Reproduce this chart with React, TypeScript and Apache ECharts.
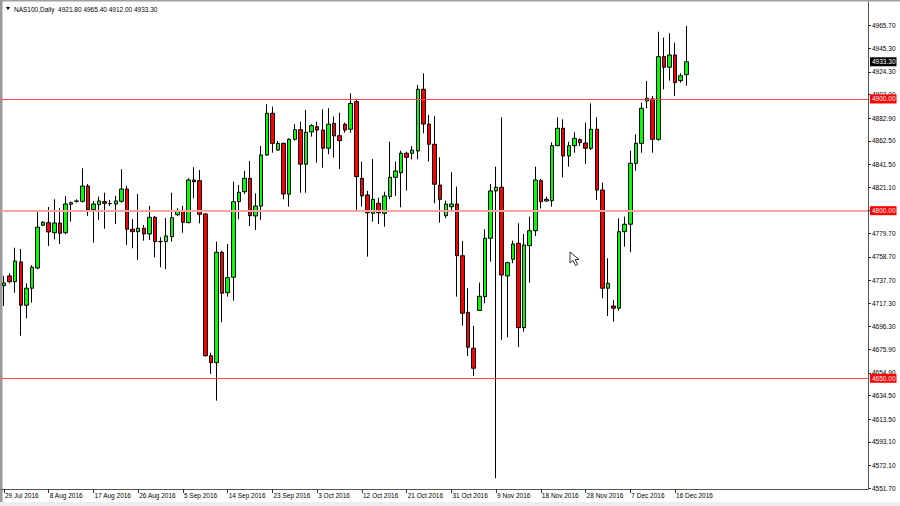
import React, { useEffect, useRef } from 'react';
import * as echarts from 'echarts';

const dateLabels = ['29 Jul 2016', '8 Aug 2016', '17 Aug 2016', '26 Aug 2016', '5 Sep 2016', '14 Sep 2016', '23 Sep 2016', '3 Oct 2016', '12 Oct 2016', '21 Oct 2016', '31 Oct 2016', '9 Nov 2016', '18 Nov 2016', '28 Nov 2016', '7 Dec 2016', '16 Dec 2016'];

const openP = [4732.9, 4741.6, 4736.5, 4754.1, 4715.4, 4730.6, 4748.7, 4787.0, 4789.3, 4780.3, 4789.0, 4780.3, 4805.8, 4808.4, 4808.4, 4822.1, 4800.9, 4805.4, 4808.1, 4806.5, 4806.0, 4808.4, 4819.4, 4783.4, 4781.2, 4784.3, 4779.2, 4794.1, 4772.5, 4772.3, 4776.8, 4796.4, 4799.5, 4789.3, 4827.5, 4826.9, 4797.1, 4670.2, 4664.0, 4762.8, 4726.6, 4740.4, 4808.1, 4817.0, 4829.0, 4795.3, 4804.2, 4849.9, 4887.2, 4854.3, 4860.3, 4814.7, 4863.9, 4872.5, 4841.6, 4870.5, 4875.2, 4872.2, 4855.9, 4878.2, 4867.1, 4877.4, 4872.9, 4897.6, 4829.0, 4814.1, 4797.7, 4806.6, 4797.7, 4812.6, 4829.9, 4834.0, 4851.4, 4851.4, 4853.5, 4908.7, 4877.6, 4859.5, 4823.0, 4795.5, 4803.6, 4806.0, 4759.7, 4709.1, 4676.9, 4710.7, 4723.1, 4775.3, 4817.7, 4821.0, 4741.6, 4756.5, 4770.8, 4695.3, 4768.7, 4782.1, 4826.9, 4808.7, 4809.0, 4858.2, 4873.8, 4849.0, 4858.2, 4863.6, 4860.6, 4855.9, 4872.9, 4818.5, 4730.6, 4714.7, 4712.7, 4781.2, 4787.9, 4842.4, 4860.3, 4898.2, 4900.0, 4863.9, 4937.9, 4928.4, 4939.4, 4916.4, 4921.8];
const highP = [4741.6, 4744.0, 4766.9, 4765.7, 4735.0, 4751.4, 4799.8, 4790.8, 4803.3, 4810.2, 4802.2, 4813.2, 4808.1, 4810.2, 4838.0, 4823.9, 4808.7, 4812.6, 4816.1, 4809.6, 4813.4, 4837.1, 4822.4, 4792.3, 4815.0, 4787.2, 4804.2, 4795.3, 4776.2, 4793.5, 4816.1, 4802.2, 4804.2, 4829.0, 4838.9, 4836.4, 4797.7, 4672.9, 4772.3, 4764.0, 4770.2, 4826.0, 4823.0, 4835.6, 4844.5, 4815.6, 4857.9, 4895.3, 4893.1, 4862.4, 4860.9, 4864.8, 4877.4, 4879.7, 4890.1, 4877.4, 4879.7, 4890.8, 4891.7, 4884.2, 4887.7, 4878.8, 4905.1, 4899.7, 4843.9, 4817.7, 4846.3, 4811.7, 4817.0, 4861.8, 4843.9, 4853.7, 4852.8, 4857.9, 4912.5, 4923.0, 4885.7, 4884.8, 4847.8, 4809.0, 4834.4, 4821.5, 4772.9, 4730.6, 4696.8, 4735.6, 4783.4, 4823.9, 4839.4, 4883.6, 4754.4, 4773.2, 4788.7, 4779.2, 4794.7, 4839.4, 4828.4, 4812.6, 4861.2, 4883.6, 4881.8, 4861.8, 4870.2, 4864.8, 4878.8, 4896.1, 4883.6, 4825.1, 4757.4, 4720.1, 4793.2, 4794.7, 4853.7, 4868.4, 4896.7, 4916.1, 4902.7, 4960.2, 4954.9, 4958.8, 4950.4, 4923.0, 4965.4];
const lowP = [4714.7, 4735.0, 4726.6, 4688.1, 4703.7, 4717.7, 4747.6, 4786.3, 4768.4, 4774.4, 4770.2, 4778.9, 4790.2, 4807.2, 4807.2, 4795.3, 4771.4, 4791.7, 4783.9, 4804.2, 4788.1, 4807.2, 4769.3, 4766.4, 4755.9, 4773.2, 4773.8, 4758.3, 4749.4, 4747.6, 4772.3, 4795.3, 4780.3, 4788.7, 4811.1, 4788.7, 4669.4, 4653.9, 4630.0, 4700.1, 4723.1, 4719.5, 4792.3, 4815.0, 4786.3, 4782.7, 4791.7, 4849.0, 4851.9, 4853.7, 4810.2, 4803.6, 4862.7, 4816.1, 4816.1, 4866.3, 4843.0, 4838.5, 4850.5, 4847.5, 4837.3, 4869.8, 4869.8, 4800.6, 4803.6, 4758.9, 4790.2, 4788.1, 4785.7, 4810.2, 4813.2, 4803.1, 4817.9, 4846.0, 4846.0, 4869.3, 4843.9, 4806.6, 4789.3, 4793.2, 4799.1, 4723.1, 4697.1, 4670.0, 4652.1, 4710.5, 4717.1, 4754.4, 4560.5, 4684.3, 4686.7, 4752.9, 4677.8, 4691.7, 4735.6, 4777.4, 4802.2, 4808.1, 4803.6, 4857.9, 4829.9, 4839.4, 4851.9, 4857.9, 4841.8, 4854.3, 4809.6, 4721.6, 4705.8, 4700.7, 4710.5, 4767.8, 4762.8, 4835.8, 4851.9, 4891.7, 4851.9, 4862.7, 4908.7, 4916.4, 4902.7, 4914.6, 4912.0];
const closeP = [4735.3, 4736.5, 4755.0, 4715.4, 4730.6, 4749.4, 4785.2, 4789.6, 4781.0, 4789.0, 4779.8, 4806.0, 4807.2, 4808.7, 4822.1, 4800.9, 4806.0, 4808.7, 4806.6, 4806.3, 4808.7, 4819.4, 4783.4, 4781.2, 4784.3, 4779.2, 4794.1, 4772.3, 4772.3, 4777.4, 4793.8, 4799.5, 4789.6, 4827.5, 4826.0, 4796.8, 4670.2, 4664.0, 4762.8, 4726.1, 4740.1, 4808.1, 4816.5, 4829.0, 4795.5, 4804.2, 4849.9, 4887.2, 4860.3, 4860.3, 4815.0, 4863.9, 4872.5, 4841.6, 4870.2, 4876.1, 4872.2, 4855.9, 4877.4, 4866.9, 4862.7, 4872.2, 4896.1, 4830.5, 4813.2, 4798.2, 4810.2, 4798.2, 4813.2, 4829.9, 4835.6, 4851.4, 4847.8, 4854.3, 4908.7, 4877.6, 4859.5, 4823.7, 4810.2, 4806.0, 4806.0, 4759.7, 4708.2, 4677.8, 4659.0, 4723.4, 4775.3, 4817.7, 4821.0, 4742.5, 4753.5, 4770.2, 4695.3, 4769.3, 4782.1, 4827.5, 4808.1, 4810.2, 4858.2, 4873.8, 4849.0, 4858.2, 4864.8, 4860.9, 4855.9, 4872.9, 4818.5, 4730.6, 4735.0, 4712.7, 4781.2, 4787.9, 4842.4, 4860.3, 4891.7, 4900.6, 4863.9, 4937.9, 4928.4, 4939.4, 4914.6, 4920.8, 4933.3];

const priceTicks = [4965.7, 4945.3, 4924.3, 4903.9, 4882.9, 4862.5, 4841.5, 4821.1, 4800.7, 4779.7, 4758.7, 4737.7, 4717.3, 4696.3, 4675.9, 4654.9, 4634.5, 4613.5, 4593.1, 4572.1, 4551.7];
const levelLines = [4900, 4800, 4650];
const lastPrice = 4933.3;
const headerText = 'NAS100,Daily  4921.80 4965.40 4912.00 4933.30';

const SLOT_COUNT = 155;
const LABEL_EVERY = 8;
const Y_MIN = 4550.9;
const Y_MAX = 4986.8;
const FONT = '"Liberation Sans", Arial, sans-serif';
const FS = 6.5;

export default function App() {
  const ref = useRef<HTMLDivElement>(null);
  useEffect(() => {
    if (!ref.current) return;
    const chart = echarts.init(ref.current, null, { renderer: 'svg' });
    const slots = Array.from({ length: SLOT_COUNT }, (_, i) => String(i));
    const candles = openP.map((o, i) => [o, closeP[i], lowP[i], highP[i]]);
    const showIdx = (i: number) => i % LABEL_EVERY === 0 && i / LABEL_EVERY < dateLabels.length;

    const boxLabel = (text: string, bg: string) => ({
      show: true,
      position: 'end',
      distance: 2,
      formatter: text,
      color: '#ffffff',
      backgroundColor: bg,
      padding: [1, 1, 1, 2],
      fontSize: FS,
      fontFamily: FONT,
    });

    const levelData: any[] = levelLines.map((lv) => ({
      yAxis: lv,
      lineStyle: lv === 4800 ? { color: '#ffa3a3', width: 2, type: 'solid' } : { color: '#ff4a4a', width: 1, type: 'solid' },
      label: boxLabel(lv.toFixed(2), '#ff0000'),
    }));
    levelData.push({
      yAxis: lastPrice,
      lineStyle: { color: 'rgba(0,0,0,0)', width: 1, type: 'solid' },
      label: boxLabel(lastPrice.toFixed(2), '#000000'),
    });

    chart.setOption({
      animation: false,
      backgroundColor: '#ffffff',
      grid: { left: 1.2, top: 2, width: 866.8, height: 487, containLabel: false },
      xAxis: {
        type: 'category',
        data: slots,
        boundaryGap: true,
        axisLine: { show: true, lineStyle: { color: '#555555', width: 1 } },
        axisTick: { show: true, alignWithLabel: true, interval: (i: number) => showIdx(i), length: 4, lineStyle: { color: '#333333' } },
        axisLabel: {
          show: true,
          interval: (i: number) => showIdx(i),
          formatter: (_v: string, i: number) => dateLabels[i / LABEL_EVERY] ?? '',
          align: 'left',
          margin: 3,
          padding: [0, 0, 0, 1],
          color: '#000000',
          fontSize: FS,
          fontFamily: FONT,
        },
        splitLine: { show: false },
      },
      yAxis: {
        type: 'value',
        position: 'right',
        min: Y_MIN,
        max: Y_MAX,
        scale: true,
        axisLine: { show: true, lineStyle: { color: '#555555', width: 1 } },
        axisTick: { show: true, customValues: priceTicks, length: 3, lineStyle: { color: '#333333' } },
        axisLabel: {
          show: true,
          customValues: priceTicks,
          formatter: (v: number) => v.toFixed(2),
          margin: 4,
          color: '#000000',
          fontSize: FS,
          fontFamily: FONT,
        },
        splitLine: { show: false },
      },
      series: [
        {
          type: 'candlestick',
          data: candles,
          barWidth: 4,
          itemStyle: {
            color: '#00ff00',
            color0: '#ff0000',
            borderColor: '#000000',
            borderColor0: '#000000',
            borderWidth: 1,
          },
          markLine: {
            silent: true,
            symbol: ['none', 'none'],
            animation: false,
            data: levelData,
          },
        },
      ],
      graphic: [
        { type: 'rect', shape: { x: 0, y: 0, width: 900, height: 1.5 }, style: { fill: '#a0a0a0' }, silent: true },
        { type: 'rect', shape: { x: 0, y: 0, width: 2.5, height: 502 }, style: { fill: '#9a9a9a' }, silent: true },
        { type: 'rect', shape: { x: 0, y: 502, width: 900, height: 4 }, style: { fill: '#ececec' }, silent: true },
        {
          type: 'polygon',
          shape: { points: [[6, 7], [10, 7], [8, 10]] },
          style: { fill: '#000000' },
          silent: true,
        },
        {
          type: 'text',
          x: 14,
          y: 9,
          style: { text: headerText, fill: '#000000', font: `${FS}px ${FONT}`, textVerticalAlign: 'middle' },
          silent: true,
        },
        {
          type: 'polygon',
          shape: { points: [[570, 252], [570, 263], [573, 260.5], [575.5, 265.5], [577.5, 264.5], [575.2, 259.5], [579, 259.5]] },
          style: { fill: '#ffffff', stroke: '#000000', lineWidth: 0.8 },
          silent: true,
        },
      ],
    });
    return () => chart.dispose();
  }, []);
  return <div ref={ref} style={{ position: 'absolute', left: 0, top: 0, width: 900, height: 506 }} />;
}
